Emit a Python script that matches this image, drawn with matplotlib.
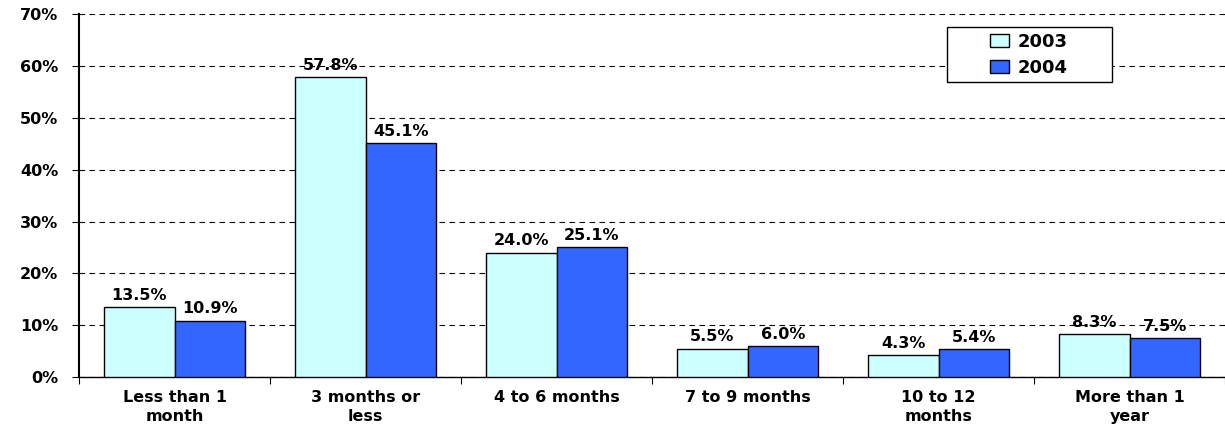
import matplotlib
matplotlib.use("Agg")
import matplotlib.pyplot as plt
from matplotlib.patches import Rectangle
import numpy as np

categorias = ["Less than 1\nmonth", "3 months or\nless", "4 to 6 months",
              "7 to 9 months", "10 to 12\nmonths", "More than 1\nyear"]
valores_2003 = [13.5, 57.8, 24.0, 5.5, 4.3, 8.3]
valores_2004 = [10.9, 45.1, 25.1, 6.0, 5.4, 7.5]

plt.rcParams["font.family"] = ["DejaVu Sans"]
plt.rcParams["font.weight"] = "bold"

fig = plt.figure(figsize=(12.25, 4.29), dpi=100)
ax = fig.add_axes([0.0645, 0.121, 0.9355, 0.846])

x = np.arange(len(categorias))
ancho = 0.37
b1 = ax.bar(x - ancho / 2, valores_2003, ancho, color="#CCFFFF", edgecolor="black",
            linewidth=1, label="2003", zorder=3)
b2 = ax.bar(x + ancho / 2, valores_2004, ancho, color="#3366FF", edgecolor="black",
            linewidth=1, label="2004", zorder=3)

for barras in (b1, b2):
    for b in barras:
        ax.annotate(f"{b.get_height():.1f}%", (b.get_x() + b.get_width() / 2, b.get_height()),
                    xytext=(0, 3), textcoords="offset points", ha="center", va="bottom",
                    fontsize=11.5, fontweight="bold")

ax.set_xlim(-0.5, len(categorias) - 0.5)
ax.set_ylim(0, 70)
ax.set_yticks(np.arange(0, 71, 10))
ax.set_yticklabels([f"{v}%" for v in range(0, 71, 10)], fontsize=11.5, fontweight="bold")
ax.yaxis.grid(True, linestyle=(0, (5, 4)), color="black", linewidth=0.8, zorder=0)

# ticks en los limites de grupo, etiquetas en el centro
ax.set_xticks(np.arange(-0.5, len(categorias)), minor=False)
ax.set_xticklabels([])
ax.set_xticks(x, minor=True)
ax.set_xticklabels(categorias, minor=True, fontsize=11.5, fontweight="bold", linespacing=1.4)
ax.tick_params(axis="x", which="minor", length=0, pad=9)
ax.tick_params(axis="x", which="major", length=5, direction="out", color="black")
ax.tick_params(axis="y", length=5, direction="out", color="black", pad=10)

for s in ["top", "right"]:
    ax.spines[s].set_visible(False)
ax.spines["left"].set_linewidth(1.5)
ax.spines["bottom"].set_linewidth(1.0)

# marco de la leyenda
ax.add_patch(Rectangle((0.757, 0.813), 0.144, 0.1515, transform=ax.transAxes,
                       facecolor="white", edgecolor="black", linewidth=1, zorder=4))
leg = ax.legend(loc="center", bbox_to_anchor=(0.829, 0.888), frameon=False,
                prop={"size": 13, "weight": "bold"},
                handlelength=1.0, handleheight=0.75, labelspacing=0.45,
                borderaxespad=0, handletextpad=0.5)
leg.set_zorder(5)
for h in leg.legend_handles:
    h.set_linewidth(1)

fig.savefig("out.png", dpi=100)
